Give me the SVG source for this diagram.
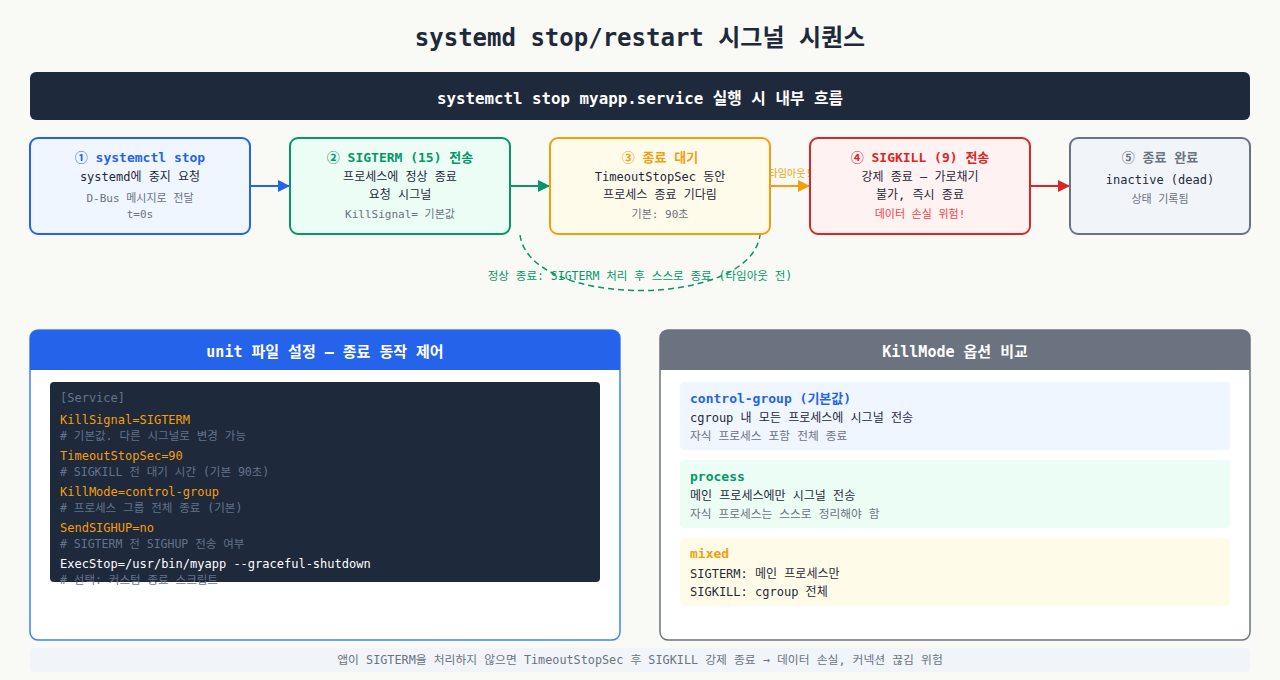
<svg xmlns="http://www.w3.org/2000/svg" width="1280" height="680" viewBox="0 0 1280 680">
<defs>
<style>
text{font-family:"DejaVu Sans Mono","Noto Sans CJK KR",monospace;}
.c{text-anchor:middle;}
.t{font-size:13px;font-weight:bold;}
.m{font-size:12px;fill:#1e293b;}
.s{font-size:11px;fill:#6b7280;}
.code{font-size:12px;}
.key{fill:#f59e0b;}
.cm{font-size:11.5px;fill:#64748b;}
.cs{font-size:11.7px;fill:#6b7280;}
.node{stroke-width:2;}
.ph{font-size:15px;font-weight:bold;fill:#ffffff;}
</style>
<marker id="ab" markerWidth="12" markerHeight="12" refX="11" refY="6" orient="auto" markerUnits="userSpaceOnUse"><path d="M0,0 L12,6 L0,12 z" fill="#2563eb"/></marker>
<marker id="ag" markerWidth="12" markerHeight="12" refX="11" refY="6" orient="auto" markerUnits="userSpaceOnUse"><path d="M0,0 L12,6 L0,12 z" fill="#059669"/></marker>
<marker id="ao" markerWidth="12" markerHeight="12" refX="11" refY="6" orient="auto" markerUnits="userSpaceOnUse"><path d="M0,0 L12,6 L0,12 z" fill="#f59e0b"/></marker>
<marker id="ar" markerWidth="12" markerHeight="12" refX="11" refY="6" orient="auto" markerUnits="userSpaceOnUse"><path d="M0,0 L12,6 L0,12 z" fill="#dc2626"/></marker>
</defs>
<rect width="1280" height="680" fill="#f9faf6"/>
<text x="640" y="46" class="c" font-size="24" font-weight="bold" fill="#1e293b">systemd stop/restart 시그널 시퀀스</text>
<g id="banner">
<rect x="30" y="72" width="1220" height="48" rx="6" fill="#1e293b"/>
<text x="640" y="104" class="c" font-size="15.8" font-weight="bold" fill="#ffffff">systemctl stop myapp.service 실행 시 내부 흐름</text>
</g>
<g id="connectors">
<line x1="251" y1="186" x2="289" y2="186" stroke="#2563eb" stroke-width="2" marker-end="url(#ab)"/>
<line x1="511" y1="186" x2="549" y2="186" stroke="#059669" stroke-width="2" marker-end="url(#ag)"/>
<line x1="771" y1="186" x2="809" y2="186" stroke="#f59e0b" stroke-width="2" marker-end="url(#ao)"/>
<text x="790" y="177" class="c" font-size="10" fill="#f59e0b">타임아웃!</text>
<line x1="1031" y1="186" x2="1069" y2="186" stroke="#dc2626" stroke-width="2" marker-end="url(#ar)"/>
<path d="M520,235 C530,309 750,309 760,235" fill="none" stroke="#059669" stroke-width="1.5" stroke-dasharray="6,4"/>
<text x="640" y="280" class="c" font-size="11.5" fill="#059669">정상 종료: SIGTERM 처리 후 스스로 종료 (타임아웃 전)</text>
</g>
<g id="n1">
<rect x="30" y="138" width="220" height="96" rx="8" fill="#eff6ff" stroke="#2563eb" class="node"/>
<text x="140" y="162" class="c t" fill="#2563eb">① systemctl stop</text>
<text x="140" y="181" class="c m">systemd에 중지 요청</text>
<text x="140" y="202" class="c s">D-Bus 메시지로 전달</text>
<text x="140" y="218" class="c s">t=0s</text>
</g>
<g id="n2">
<rect x="290" y="138" width="220" height="96" rx="8" fill="#ecfdf5" stroke="#059669" class="node"/>
<text x="400" y="162" class="c t" fill="#059669">② SIGTERM (15) 전송</text>
<text x="400" y="181" class="c m">프로세스에 정상 종료</text>
<text x="400" y="199" class="c m">요청 시그널</text>
<text x="400" y="218" class="c s">KillSignal= 기본값</text>
</g>
<g id="n3">
<rect x="550" y="138" width="220" height="96" rx="8" fill="#fffbeb" stroke="#f59e0b" class="node"/>
<text x="660" y="162" class="c t" fill="#f59e0b">③ 종료 대기</text>
<text x="660" y="181" class="c m">TimeoutStopSec 동안</text>
<text x="660" y="199" class="c m">프로세스 종료 기다림</text>
<text x="660" y="218" class="c s">기본: 90초</text>
</g>
<g id="n4">
<rect x="810" y="138" width="220" height="96" rx="8" fill="#fef2f2" stroke="#dc2626" class="node"/>
<text x="920" y="162" class="c t" fill="#dc2626">④ SIGKILL (9) 전송</text>
<text x="920" y="181" class="c m">강제 종료 — 가로채기</text>
<text x="920" y="199" class="c m">불가, 즉시 종료</text>
<text x="920" y="218" class="c" font-size="11" fill="#ef4444">데이터 손실 위험!</text>
</g>
<g id="n5">
<rect x="1070" y="138" width="180" height="96" rx="8" fill="#f1f5f9" stroke="#6b7280" class="node"/>
<text x="1160" y="162" class="c t" fill="#6b7280">⑤ 종료 완료</text>
<text x="1160" y="184" class="c m">inactive (dead)</text>
<text x="1160" y="203" class="c s">상태 기록됨</text>
</g>
<g id="unitPanel">
<rect x="30" y="330" width="590" height="310" rx="8" fill="#ffffff" stroke="#3b82f6" stroke-width="1.5"/>
<path d="M30,370 V338 a8,8 0 0 1 8,-8 H612 a8,8 0 0 1 8,8 V370 z" fill="#2563eb"/>
<text x="325" y="357" class="c ph">unit 파일 설정 — 종료 동작 제어</text>
<rect x="50" y="382" width="550" height="200" rx="4" fill="#1e293b"/>
<text x="60" y="402" class="code" fill="#64748b">[Service]</text>
<text x="60" y="424" class="code key">KillSignal=SIGTERM</text>
<text x="60" y="440" class="cm"># 기본값. 다른 시그널로 변경 가능</text>
<text x="60" y="460" class="code key">TimeoutStopSec=90</text>
<text x="60" y="476" class="cm"># SIGKILL 전 대기 시간 (기본 90초)</text>
<text x="60" y="496" class="code key">KillMode=control-group</text>
<text x="60" y="512" class="cm"># 프로세스 그룹 전체 종료 (기본)</text>
<text x="60" y="532" class="code key">SendSIGHUP=no</text>
<text x="60" y="548" class="cm"># SIGTERM 전 SIGHUP 전송 여부</text>
<text x="60" y="568" class="code" fill="#ffffff">ExecStop=/usr/bin/myapp --graceful-shutdown</text>
<text x="60" y="584" class="cm"># 선택: 커스텀 종료 스크립트</text>
</g>
<g id="killmodePanel">
<rect x="660" y="330" width="590" height="310" rx="8" fill="#ffffff" stroke="#6b7280" stroke-width="1.5"/>
<path d="M660,370 V338 a8,8 0 0 1 8,-8 H1242 a8,8 0 0 1 8,8 V370 z" fill="#6b7280"/>
<text x="955" y="357" class="c ph">KillMode 옵션 비교</text>
<rect x="680" y="382" width="550" height="68" rx="4" fill="#eff6ff"/>
<text x="690" y="403" class="t" fill="#2563eb">control-group (기본값)</text>
<text x="690" y="422" class="m">cgroup 내 모든 프로세스에 시그널 전송</text>
<text x="690" y="440" class="cs">자식 프로세스 포함 전체 종료</text>
<rect x="680" y="460" width="550" height="68" rx="4" fill="#ecfdf5"/>
<text x="690" y="481" class="t" fill="#059669">process</text>
<text x="690" y="500" class="m">메인 프로세스에만 시그널 전송</text>
<text x="690" y="518" class="cs">자식 프로세스는 스스로 정리해야 함</text>
<rect x="680" y="538" width="550" height="68" rx="4" fill="#fefce8"/>
<text x="690" y="558" class="t" fill="#f59e0b">mixed</text>
<text x="690" y="578" class="m">SIGTERM: 메인 프로세스만</text>
<text x="690" y="596" class="m">SIGKILL: cgroup 전체</text>
</g>
<g id="footer">
<rect x="30" y="648" width="1220" height="24" rx="4" fill="#f1f5f9"/>
<text x="640" y="664" class="c" font-size="11.8" fill="#6b7280">앱이 SIGTERM을 처리하지 않으면 TimeoutStopSec 후 SIGKILL 강제 종료 → 데이터 손실, 커넥션 끊김 위험</text>
</g>
</svg>
